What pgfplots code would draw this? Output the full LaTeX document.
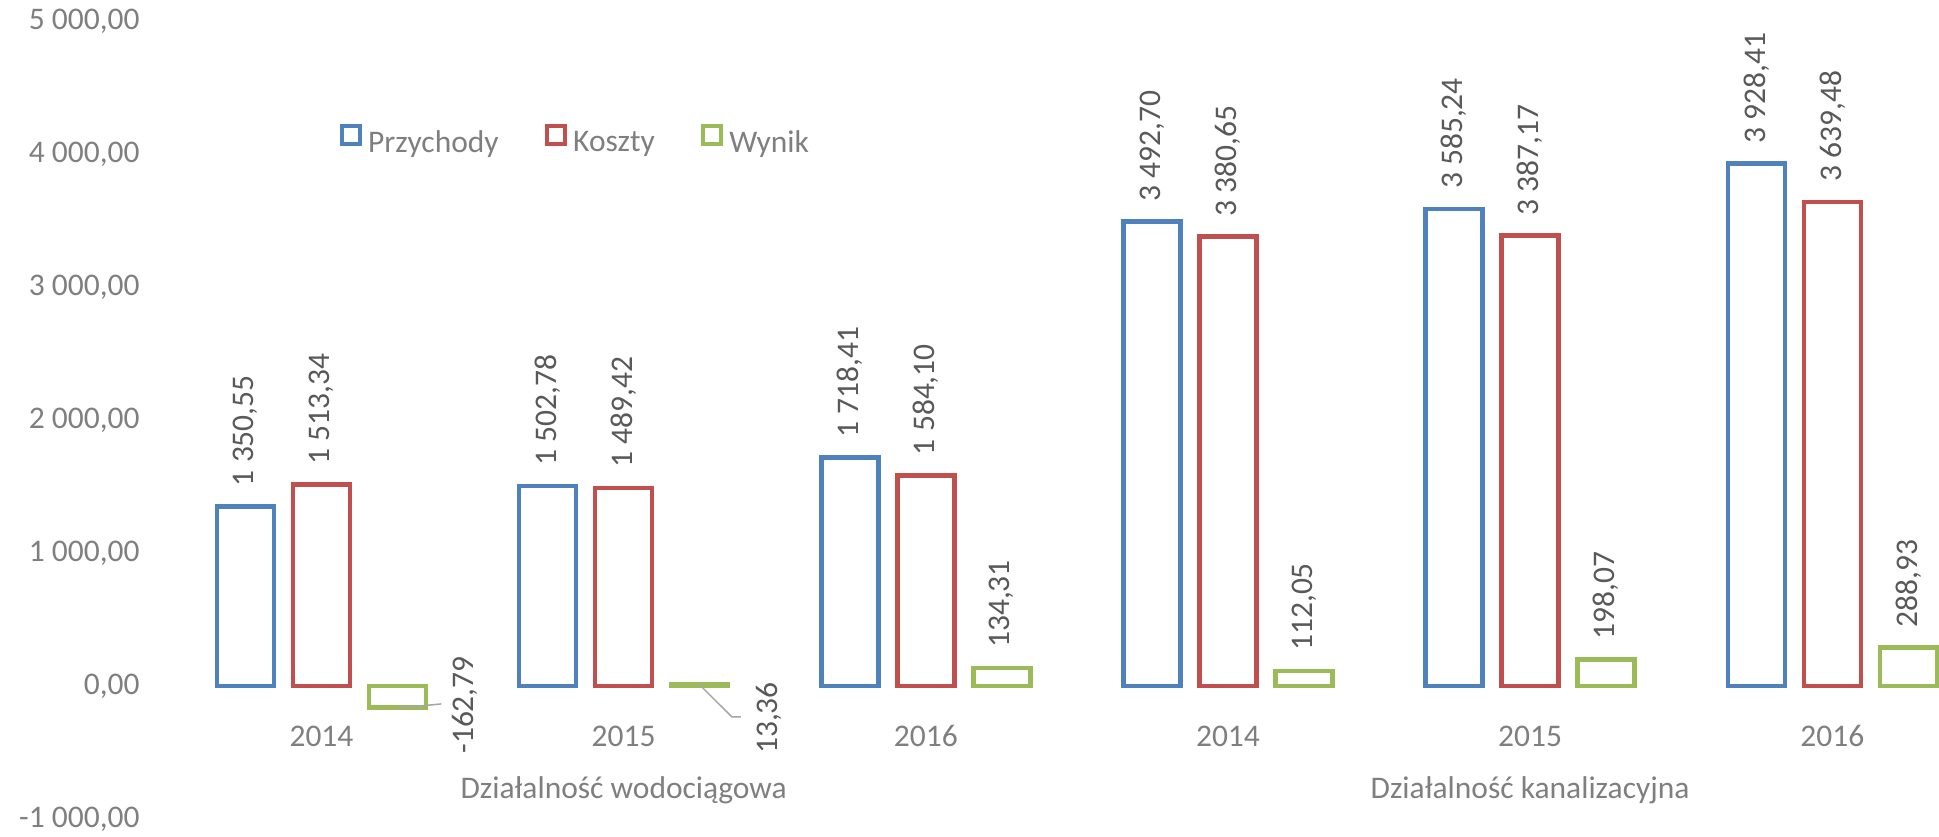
\documentclass[border=0pt]{standalone}
\usepackage{pgfplots}
\pgfplotsset{compat=1.18}
\usepackage{fontspec}
\setmainfont{Carlito}
\definecolor{cblue}{HTML}{4F81BD}
\definecolor{cred}{HTML}{C0504D}
\definecolor{cgreen}{HTML}{9BBB59}
\definecolor{tgray}{HTML}{7F7F7F}
\definecolor{lgray}{HTML}{595959}
\newcommand\cf{\fontsize{15.75pt}{18pt}\selectfont}
\pgfplotsset{
  mylegend/.style={legend image code/.code={\draw[##1, line width=2.25pt, fill=white] (0pt,-0.75pt) rectangle (9pt,8.25pt);}},
  mybar/.style={draw=#1, fill=white, line width=2.25pt, mylegend},
}
\begin{document}
\begin{tikzpicture}
\begin{axis}[
  at={(0,0)}, anchor=south west,
  scale only axis, width=884.3pt, height=399pt,
  xmin=-0.5, xmax=5.3524, ymin=-1000, ymax=5000,
  clip=false,
  axis line style={draw=none}, tick style={draw=none},
  ytick={-1000,0,...,5000},
  yticklabels={{-1 000,00},{0,00},{1 000,00},{2 000,00},{3 000,00},{4 000,00},{5 000,00}},
  yticklabel style={anchor=east, inner sep=0pt, xshift=-15.2pt, font=\cf, text=tgray},
  xtick={0,...,5}, xticklabels={2014,2015,2016,2014,2015,2016},
  xticklabel style={anchor=center, inner sep=0pt, yshift=45.5pt, font=\cf, text=tgray},
  ybar, bar width=28.5pt,
  nodes near coords, point meta=explicit symbolic,
  every node near coord/.append style={rotate=90, anchor=west, inner xsep=9pt, inner ysep=0pt, font=\cf, text=lgray},
  legend columns=3,
  legend style={at={(axis cs:0.0589,4109)}, anchor=west, draw=none, fill=none, inner sep=0pt,
    font=\cf, text=tgray, nodes={inner sep=0pt},
    /tikz/every odd column/.append style={column sep=3pt},
    /tikz/every even column/.append style={column sep=23pt}},
]
\addplot[mybar=cblue, bar shift=-38pt] coordinates {
  (0,1350.55) [1 350,55]
  (1,1502.78) [1 502,78]
  (2,1718.41) [1 718,41]
  (3,3492.70) [3 492,70]
  (4,3585.24) [3 585,24]
  (5,3928.41) [3 928,41]
};
\addplot[mybar=cred, bar shift=0pt] coordinates {
  (0,1513.34) [1 513,34]
  (1,1489.42) [1 489,42]
  (2,1584.10) [1 584,10]
  (3,3380.65) [3 380,65]
  (4,3387.17) [3 387,17]
  (5,3639.48) [3 639,48]
};
\addplot[mybar=cgreen, bar shift=38pt] coordinates {
  (0,-162.79) []
  (1,13.36) []
  (2,134.31) [134,31]
  (3,112.05) [112,05]
  (4,198.07) [198,07]
  (5,288.93) [288,93]
};
\legend{Przychody,Koszty,Wynik}
\draw[gray!70, line width=0.75pt] (axis cs:0.2512,-167.7) -- (axis cs:0.3968,-135.3);
\node[rotate=90, font=\cf, text=lgray, inner sep=0pt] at (axis cs:0.475,-143) {-162,79};
\draw[gray!70, line width=0.75pt] (axis cs:1.2522,7.5) -- (axis cs:1.3582,-233) -- (axis cs:1.388,-233);
\node[rotate=90, font=\cf, text=lgray, inner sep=0pt] at (axis cs:1.481,-241) {13,36};
\node[font=\cf, text=tgray] at (axis cs:1,-782) {Działalność wodociągowa};
\node[font=\cf, text=tgray] at (axis cs:4,-782) {Działalność kanalizacyjna};
\end{axis}
\path (-85.2pt,-9pt) rectangle (884.3pt,409.5pt);
\end{tikzpicture}
\end{document}
